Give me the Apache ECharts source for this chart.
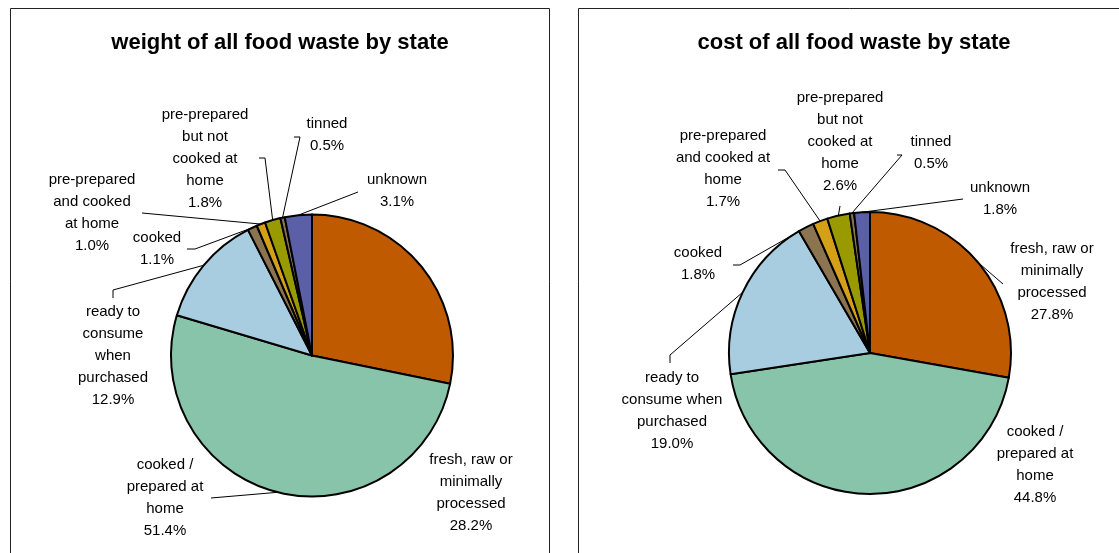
<!DOCTYPE html>
<html>
<head>
<meta charset="utf-8">
<script src="https://cdn.jsdelivr.net/npm/echarts@6/dist/echarts.min.js"></script>
<style>
html,body{margin:0;padding:0;background:#fff;}
#chart{width:1119px;height:553px;}
</style>
</head>
<body>
<div id="chart"></div>
<script>
// ---- data ----
const categories = ['fresh, raw or minimally processed', 'cooked / prepared at home', 'ready to consume when purchased', 'cooked', 'pre-prepared and cooked at home', 'pre-prepared but not cooked at home', 'tinned', 'unknown'];
const weightPct = [28.2, 51.4, 12.9, 1.1, 1.0, 1.8, 0.5, 3.1];
const costPct = [27.8, 44.8, 19.0, 1.8, 1.7, 2.6, 0.5, 1.8];
const weightLabelText = ['fresh, raw or\nminimally\nprocessed', 'cooked /\nprepared at\nhome', 'ready to\nconsume\nwhen\npurchased', 'cooked', 'pre-prepared\nand cooked\nat home', 'pre-prepared\nbut not\ncooked at\nhome', 'tinned', 'unknown'];
const costLabelText = ['fresh, raw or\nminimally\nprocessed', 'cooked /\nprepared at\nhome', 'ready to\nconsume when\npurchased', 'cooked', 'pre-prepared\nand cooked at\nhome', 'pre-prepared\nbut not\ncooked at\nhome', 'tinned', 'unknown'];
const titles = ['weight of all food waste by state', 'cost of all food waste by state'];

// ---- layout / style ----
const colors = ['#C05A00', '#88C4AA', '#A9CDE0', '#8C7450', '#D4A017', '#999900', '#8C7450', '#5A5FA8'];
// label anchor: [center x, first-line center y]
const weightLabelPos = [[471,460],[165,465],[113,312],[157,238],[92,180],[205,115],[327,124],[397,180]];
const costLabelPos = [[1052,249],[1035,432],[672,378],[698,253],[723,136],[840,98],[931,142],[1000,188]];
// leader line points after the slice edge point (null = no leader)
const weightLeader = [null, [[211,498]], [[113,290],[113,298]], [[195,249],[187,249]], [[142,213]], [[265,158],[259,158]], [[300,137],[294,137]], [[358,192]]];
const costLeader = [[[1003,284]], null, [[670,355],[670,363]], [[740,265],[733,265]], [[785,170],[778,170]], [[840,206]], [[902,155],[897,155]], [[963,199]]];
const FONT = "'Liberation Sans', Arial, sans-serif";

function makeSeries(values, texts, center, posArr, leaders) {
  const total = values.reduce((a, b) => a + b, 0);
  const R = 141;
  return {
    type: 'pie',
    center: center,
    radius: R,
    startAngle: 90,
    clockwise: true,
    avoidLabelOverlap: false,
    animation: false,
    emphasis: { disabled: true },
    itemStyle: { borderColor: '#000', borderWidth: 2 },
    label: {
      show: true,
      position: 'outside',
      alignTo: 'none',
      fontFamily: FONT,
      fontSize: 15,
      lineHeight: 22,
      color: '#000',
      formatter: p => texts[p.dataIndex] + '\n' + p.value.toFixed(1) + '%'
    },
    labelLine: { show: true, length: 10, length2: 10, lineStyle: { color: '#000', width: 1 } },
    labelLayout: function (params) {
      const i = params.dataIndex;
      const pos = posArr[i];
      const res = { x: pos[0], y: pos[1] - 11, align: 'center', verticalAlign: 'top' };
      if (leaders[i]) {
        let p0;
        if (params.labelLinePoints && params.labelLinePoints[0]) {
          p0 = params.labelLinePoints[0];
        } else {
          let before = 0;
          for (let k = 0; k < i; k++) before += values[k];
          const mid = (before + values[i] / 2) / total * 2 * Math.PI;
          p0 = [center[0] + R * Math.sin(mid), center[1] - R * Math.cos(mid)];
        }
        const pts = [p0].concat(leaders[i]);
        while (pts.length < 3) pts.push(pts[pts.length - 1]);
        res.labelLinePoints = pts;
      }
      return res;
    },
    data: categories.map((c, i) => ({
      name: c,
      value: values[i],
      itemStyle: { color: colors[i] },
      labelLine: { show: !!leaders[i] }
    }))
  };
}

const chart = echarts.init(document.getElementById('chart'), null, { renderer: 'canvas' });
chart.setOption({
  animation: false,
  backgroundColor: '#fff',
  tooltip: { show: false },
  graphic: [
    { type: 'rect', shape: { x: 10.5, y: 8.5, width: 539, height: 600 }, style: { fill: 'none', stroke: '#222', lineWidth: 1 }, silent: true },
    { type: 'rect', shape: { x: 578.5, y: 8.5, width: 600, height: 600 }, style: { fill: 'none', stroke: '#222', lineWidth: 1 }, silent: true },
    { type: 'text', x: 280, y: 43, style: { text: titles[0], font: 'bold 22px ' + FONT, fill: '#000', align: 'center', verticalAlign: 'middle' }, silent: true },
    { type: 'text', x: 854, y: 43, style: { text: titles[1], font: 'bold 22px ' + FONT, fill: '#000', align: 'center', verticalAlign: 'middle' }, silent: true }
  ],
  series: [
    makeSeries(weightPct, weightLabelText, [312, 355.5], weightLabelPos, weightLeader),
    makeSeries(costPct, costLabelText, [870, 353], costLabelPos, costLeader)
  ]
});
</script>
</body>
</html>
